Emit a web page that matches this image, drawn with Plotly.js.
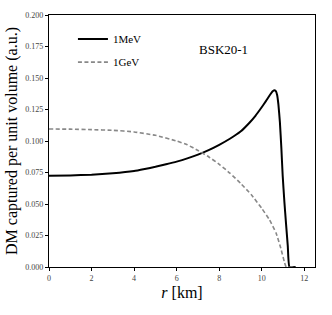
<!DOCTYPE html>
<html><head><meta charset="utf-8">
<script src="https://cdn.plot.ly/plotly-3.0.1.min.js"></script>
<style>html,body{margin:0;padding:0;background:#fff}#c{width:332px;height:315px}</style>
</head><body><div id="c"></div>
<script>
var rMeV = [0,1,2,3,4,4.5,5,5.5,6,6.5,7,7.5,8,8.5,9,9.42,9.7,9.97,10.2,10.38,10.5,10.58,10.66,10.72,10.78,10.85,10.92,10.98,11.06,11.14,11.22,11.3,11.6];
var vMeV = [0.0725,0.0727,0.0733,0.0744,0.0762,0.0778,0.0795,0.0815,0.0836,0.0862,0.0892,0.0928,0.097,0.1018,0.1075,0.1145,0.120,0.1262,0.1318,0.1365,0.1393,0.1403,0.1395,0.1365,0.129,0.115,0.094,0.073,0.052,0.034,0.017,0.0,0.0];
var rGeV = [0,1,2,3,4,5,6,6.5,7,7.5,8,8.5,9,9.5,10,10.36,10.67,10.9,11.06,11.15,11.6];
var vGeV = [0.1095,0.1094,0.109,0.1085,0.1072,0.1045,0.1,0.097,0.0925,0.0875,0.0815,0.0745,0.0665,0.0575,0.0465,0.0375,0.027,0.0145,0.004,0,0];
var xTicks = [0,2,4,6,8,10,12];
var yTicks = [0,0.025,0.05,0.075,0.1,0.125,0.15,0.175,0.2];
var F = "Liberation Serif, DejaVu Serif, serif";
var legFont = {family:F,size:11,color:'#000'};
var traces = [
 {x:rMeV,y:vMeV,name:'1MeV',legend:'legend',mode:'lines',line:{color:'#000',width:2,shape:'spline',smoothing:0.4}},
 {x:rGeV,y:vGeV,name:'1GeV',legend:'legend2',mode:'lines',line:{color:'#888',width:1.6,dash:'4px,2.5px',shape:'spline',smoothing:0.4}}
];
var layout = {
 width:332,height:315,margin:{l:49,r:17,t:15,b:48},
 paper_bgcolor:'#fff',plot_bgcolor:'#fff',
 font:{family:F,color:'#000',size:8},
 showlegend:true,
 legend:{x:0.09,y:0.905,xanchor:'left',yanchor:'middle',bgcolor:'rgba(0,0,0,0)',font:legFont,itemwidth:30},
 legend2:{x:0.09,y:0.813,xanchor:'left',yanchor:'middle',bgcolor:'rgba(0,0,0,0)',font:legFont,itemwidth:30},
 xaxis:{range:[0,12.5],tickvals:xTicks,ticktext:xTicks.map(String),ticks:'outside',ticklen:3,tickwidth:1,tickcolor:'#000',
   showline:true,linecolor:'#000',linewidth:1.2,mirror:true,showgrid:false,zeroline:false,
   tickfont:{family:F,size:8,color:'#444'},
   title:{text:'<i>r</i> [km]',font:{family:F,size:16,color:'#000'},standoff:5}},
 yaxis:{range:[0,0.2],tickvals:yTicks,ticktext:yTicks.map(function(v){return v.toFixed(3);}),ticks:'outside',ticklen:3,tickwidth:1,tickcolor:'#000',
   showline:true,linecolor:'#000',linewidth:1.2,mirror:true,showgrid:false,zeroline:false,
   tickfont:{family:F,size:8,color:'#444'},
   title:{text:'DM captured per unit volume (a.u.)',font:{family:F,size:16,color:'#000'},standoff:3}},
 annotations:[{x:0.656,y:0.865,xref:'paper',yref:'paper',text:'BSK20-1',showarrow:false,xanchor:'center',yanchor:'middle',font:{family:F,size:13,color:'#000'}}]
};
Plotly.newPlot('c',traces,layout,{displayModeBar:false,staticPlot:true});
</script></body></html>
